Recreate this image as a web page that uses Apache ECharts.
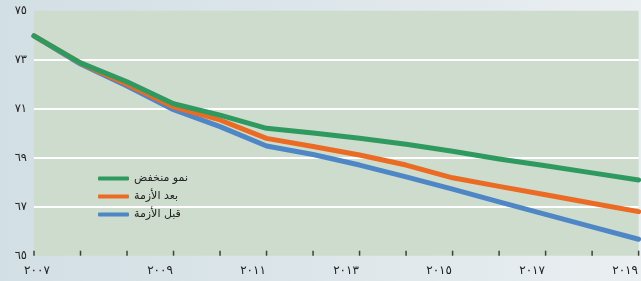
<!DOCTYPE html>
<html>
<head>
<meta charset="utf-8">
<script src="https://cdn.jsdelivr.net/npm/echarts@6/dist/echarts.min.js"></script>
<style>
html,body{margin:0;padding:0;}
body{width:641px;height:281px;background:linear-gradient(to right,#d2dfe5 0%,#dde6ea 50%,#eaeff1 100%);}
#c{width:641px;height:281px;}
</style>
</head>
<body>
<div id="c"></div>
<script>
const years = [2007,2008,2009,2010,2011,2012,2013,2014,2015,2016,2017,2018,2019,2020];
const lowGrowth = [73.97,72.87,72.10,71.20,70.74,70.20,70.01,69.79,69.55,69.26,68.95,68.67,68.38,68.09];
const postCrisis = [73.97,72.86,72.00,71.08,70.54,69.79,69.46,69.11,68.70,68.18,67.83,67.49,67.14,66.80];
const preCrisis = [73.97,72.82,71.93,70.96,70.27,69.48,69.13,68.70,68.22,67.72,67.20,66.69,66.18,65.67];
const seriesNames = ['نمو منخفض','بعد الأزمة','قبل الأزمة'];
const yTicks = [65,67,69,71,73,75];

const toArabic = s => String(s).replace(/[0-9]/g, d => '٠١٢٣٤٥٦٧٨٩'[+d]);
const FONT = '"DejaVu Sans", "Noto Sans", sans-serif';
const pairs = arr => years.map((y, i) => [y, arr[i]]);
const tickMarks = years.map(y => [y, yTicks[0]]);

const chart = echarts.init(document.getElementById('c'), null, {renderer:'canvas'});
chart.setOption({
  backgroundColor: 'transparent',
  animation: false,
  grid: {left:34, right:0, top:10.7, bottom:25.3, show:true, backgroundColor:'#cddccd', borderWidth:0},
  legend: {
    data: seriesNames,
    orient: 'vertical',
    left: 93, top: 168,
    itemWidth: 31, itemHeight: 4, itemGap: 7,
    icon: 'roundRect',
    textStyle: {fontSize: 11, color:'#222', fontFamily: FONT}
  },
  xAxis: {
    type: 'value',
    min: years[0], max: years[years.length-1], interval: 1,
    axisLine: {show:false},
    axisTick: {show:false},
    axisLabel: {margin:9, fontSize:12, color:'#222', fontFamily: FONT, showMaxLabel:false,
      formatter: v => {
        if ((v - years[0]) % 2 !== 0) return '';
        return (v === years[0] ? '{a|' : '{b|') + toArabic(v) + '}';
      },
      rich: {
        a: {fontSize:12, color:'#222', fontFamily: FONT, padding:[0,0,0,6]},
        b: {fontSize:12, color:'#222', fontFamily: FONT, padding:[0,0,0,66]}
      }
    },
    splitLine: {show:false}
  },
  yAxis: {
    type: 'value',
    min: yTicks[0], max: yTicks[yTicks.length-1], interval: 2,
    axisLine: {show:false},
    axisTick: {show:false},
    axisLabel: {margin:7, fontSize:11.5, color:'#222', fontFamily: FONT, formatter: v => toArabic(v)},
    splitLine: {show:true, lineStyle:{color:['transparent','#ffffff','#ffffff','#ffffff','#ffffff','transparent'], width:2}}
  },
  series: [
    {name: seriesNames[2], type:'line', data: pairs(preCrisis), symbol:'none', z:2, lineStyle:{width:5, color:'#4f86c6', cap:'round', join:'round'}, itemStyle:{color:'#4f86c6'}},
    {name: seriesNames[1], type:'line', data: pairs(postCrisis), symbol:'none', z:3, lineStyle:{width:5, color:'#eb6a24', cap:'round', join:'round'}, itemStyle:{color:'#eb6a24'}},
    {name: seriesNames[0], type:'line', data: pairs(lowGrowth), symbol:'none', z:4, lineStyle:{width:5, color:'#2f9a5f', cap:'round', join:'round'}, itemStyle:{color:'#2f9a5f'}},
    {name: 'ticks', type:'scatter', data: tickMarks, symbol:'rect', symbolSize:[1.5,5], symbolOffset:[0,-2.5],
     silent:true, z:5, clip:false, itemStyle:{color:'#1a1a1a'}}
  ]
});
</script>
</body>
</html>
